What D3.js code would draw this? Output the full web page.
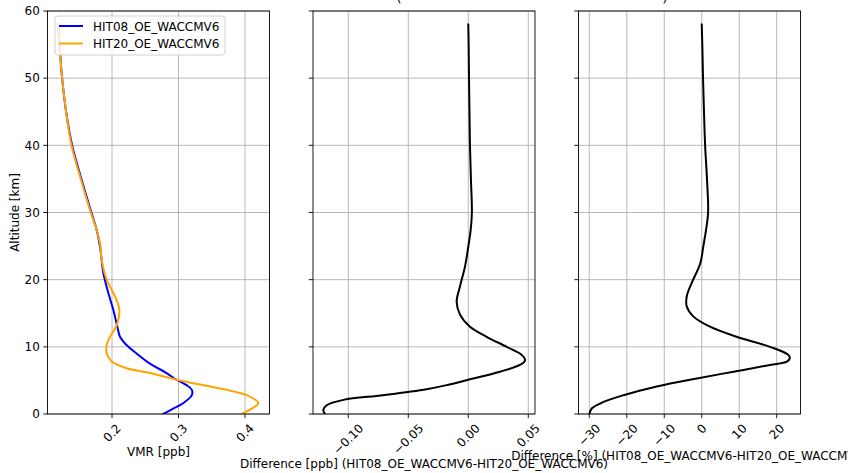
<!DOCTYPE html>
<html><head><meta charset="utf-8">
<script src="https://cdn.jsdelivr.net/npm/d3@7"></script>
<style>html,body{margin:0;padding:0;background:#fff;overflow:hidden}text{font-family:"DejaVu Sans",sans-serif}</style>
</head><body>
<svg id="chart" width="848" height="473"></svg>
<script>
// ---- data ----
const seriesNames = ["HIT08_OE_WACCMV6", "HIT20_OE_WACCMV6"];
const altHit08 = [0, 0.8, 1.6, 2.8, 3.6, 4.3, 5.1, 6.1, 7.5, 9.0, 10.5, 11.5, 13, 15.5, 18, 21, 24.9, 27.4, 30, 35, 40, 45, 50, 55, 58];
const vmrHit08 = [0.277, 0.292, 0.307, 0.320, 0.320, 0.312, 0.297, 0.282, 0.257, 0.237, 0.2195, 0.212, 0.208, 0.202, 0.1945, 0.187, 0.182, 0.177, 0.169, 0.154, 0.140, 0.131, 0.125, 0.121, 0.119];
const altHit20 = [0, 0.8, 1.6, 2.8, 3.6, 4.2, 5.1, 6.1, 6.8, 7.8, 9.0, 10.3, 11.5, 13.2, 15.5, 17.5, 20, 22.9, 25.4, 27.4, 30, 35, 40, 45, 50, 55, 58];
const vmrHit20 = [0.395, 0.41, 0.420, 0.4025, 0.372, 0.342, 0.297, 0.257, 0.222, 0.1995, 0.192, 0.192, 0.197, 0.207, 0.211, 0.2045, 0.192, 0.1845, 0.182, 0.177, 0.168, 0.153, 0.139, 0.131, 0.125, 0.121, 0.119];
const altDiff = [0, 0.6, 1.3, 2.1, 2.8, 3.7, 4.3, 5.1, 6.3, 7.3, 8.0, 8.8, 10.0, 11.5, 13.0, 14.8, 16.7, 19.0, 21.9, 24.9, 27.4, 30, 35, 40, 45, 50, 55, 58];
const diffPpb = [-0.1194, -0.1208, -0.118, -0.104, -0.071, -0.0347, -0.018, 0.0, 0.0264, 0.043, 0.0473, 0.0445, 0.032, 0.0153, 0.0014, -0.0069, -0.0097, -0.0069, -0.0028, 0.0, 0.002, 0.003, 0.0022, 0.0014, 0.001, 0.0006, 0.0003, 0.0];
const altPct = [0, 0.85, 1.8, 2.8, 4.1, 5.3, 6.3, 7.3, 7.8, 8.3, 8.8, 10.0, 11.5, 13, 14.5, 16.0, 17.5, 19.5, 22.4, 24.9, 27.4, 30, 35, 40, 45, 50, 55, 58];
const diffPct = [-30.0, -29.3, -26.2, -20.9, -12.0, -1.3, 8.5, 18.2, 22.7, 23.5, 23.1, 18.2, 9.3, 2.2, -2.2, -4.0, -4.0, -2.7, -0.4, 0.4, 1.15, 1.7, 1.4, 0.9, 0.6, 0.35, 0.15, 0.0];
const yTicks = [0, 10, 20, 30, 40, 50, 60];
const xTicks1 = [0.2, 0.3, 0.4];
const xTicks2 = [-0.10, -0.05, 0.00, 0.05];
const xTicks3 = [-30, -20, -10, 0, 10, 20];
const xLabels = ["VMR [ppb]", "Difference [ppb] (HIT08_OE_WACCMV6-HIT20_OE_WACCMV6)", "Difference [%] (HIT08_OE_WACCMV6-HIT20_OE_WACCMV6)"];
const yLabel = "Altitude [km]";

// ---- layout ----
const svg = d3.select("#chart");
const plotTop = 11, plotBottom = 414, fs = 12;
const y = d3.scaleLinear().domain([0, 60]).range([plotBottom, plotTop]);
const panels = [
  {x0: 47.5, x1: 269.5, domain: [0.103, 0.4368], ticks: xTicks1, fmt: d3.format(".1f"), showY: true,
   series: [{alt: altHit08, v: vmrHit08, color: "#0000ff"}, {alt: altHit20, v: vmrHit20, color: "#ffa500"}]},
  {x0: 313, x1: 535, domain: [-0.1294, 0.0556], ticks: xTicks2, fmt: d3.format(".2f"), showY: false,
   series: [{alt: altDiff, v: diffPpb, color: "#000000"}]},
  {x0: 578.5, x1: 800.5, domain: [-32.88, 26.35], ticks: xTicks3, fmt: d3.format("d"), showY: false,
   series: [{alt: altPct, v: diffPct, color: "#000000"}]}
];

panels.forEach((p, i) => {
  const x = d3.scaleLinear().domain(p.domain).range([p.x0, p.x1]);
  const g = svg.append("g");
  // grid
  g.selectAll(".gx").data(p.ticks).join("line")
    .attr("x1", d => x(d)).attr("x2", d => x(d)).attr("y1", plotTop).attr("y2", plotBottom)
    .attr("stroke", "#b0b0b0").attr("stroke-width", 0.9);
  g.selectAll(".gy").data(yTicks).join("line")
    .attr("x1", p.x0).attr("x2", p.x1).attr("y1", d => y(d)).attr("y2", d => y(d))
    .attr("stroke", "#b0b0b0").attr("stroke-width", 0.9);
  // lines
  const clipId = "clip" + i;
  svg.append("clipPath").attr("id", clipId).append("rect")
    .attr("x", p.x0).attr("y", plotTop).attr("width", p.x1 - p.x0).attr("height", plotBottom - plotTop);
  p.series.forEach(s => {
    const pts = s.alt.map((a, k) => [s.v[k], a]);
    const line = d3.line().x(d => x(d[0])).y(d => y(d[1])).curve(d3.curveCatmullRom.alpha(0.5));
    g.append("path").attr("d", line(pts)).attr("fill", "none").attr("stroke", s.color)
      .attr("stroke-width", 2).attr("stroke-linejoin", "round").attr("stroke-linecap", "square")
      .attr("clip-path", `url(#${clipId})`);
  });
  // spines
  g.append("rect").attr("x", p.x0).attr("y", plotTop).attr("width", p.x1 - p.x0).attr("height", plotBottom - plotTop)
    .attr("fill", "none").attr("stroke", "#000").attr("stroke-width", 0.9);
  // x ticks
  const tl = 4.2;
  g.selectAll(".xt").data(p.ticks).join("line")
    .attr("x1", d => x(d)).attr("x2", d => x(d)).attr("y1", plotBottom).attr("y2", plotBottom + tl)
    .attr("stroke", "#000").attr("stroke-width", 0.9);
  let maxBottom = 0;
  p.ticks.forEach(t => {
    const txt = g.append("text").text(p.fmt(t)).attr("font-size", fs).attr("fill", "#000")
      .attr("text-anchor", "middle").attr("dy", "0.35em");
    const w = txt.node().getComputedTextLength();
    const h = (w + fs * 0.95) * Math.SQRT1_2;
    const cy = plotBottom + tl + 4 + h / 2;
    txt.attr("transform", `translate(${x(t)},${cy}) rotate(-45)`);
    maxBottom = Math.max(maxBottom, cy + h / 2);
  });
  // y ticks
  g.selectAll(".yt").data(yTicks).join("line")
    .attr("x1", p.x0 - tl).attr("x2", p.x0).attr("y1", d => y(d)).attr("y2", d => y(d))
    .attr("stroke", "#000").attr("stroke-width", 0.9);
  if (p.showY) {
    g.selectAll(".yl").data(yTicks).join("text")
      .attr("x", p.x0 - tl - 3.5).attr("y", d => y(d)).attr("dy", "0.35em")
      .attr("text-anchor", "end").attr("font-size", fs).text(d => d);
    g.append("text").attr("transform", `translate(19,${(plotTop + plotBottom) / 2}) rotate(-90)`)
      .attr("text-anchor", "middle").attr("font-size", fs).text(yLabel);
  }
  // x label
  g.append("text").attr("x", (p.x0 + p.x1) / 2).attr("y", maxBottom + 12)
    .attr("text-anchor", "middle").attr("font-size", fs).text(xLabels[i]);
});

// title remnants (cut off at top)
svg.append("text").attr("x", 399).attr("y", 2).attr("text-anchor", "middle").attr("font-size", 14).text("(");
svg.append("text").attr("x", 665).attr("y", 2).attr("text-anchor", "middle").attr("font-size", 14).text(")");

// legend
const lg = svg.append("g");
lg.append("rect").attr("x", 55).attr("y", 16).attr("width", 170).attr("height", 39).attr("rx", 3)
  .attr("fill", "#fff").attr("fill-opacity", 0.8).attr("stroke", "#cccccc").attr("stroke-width", 0.9);
const legColors = ["#0000ff", "#ffa500"];
seriesNames.forEach((n, i) => {
  const ly = 26 + i * 17.5;
  lg.append("line").attr("x1", 59).attr("x2", 83).attr("y1", ly).attr("y2", ly)
    .attr("stroke", legColors[i]).attr("stroke-width", 2);
  lg.append("text").attr("x", 93).attr("y", ly).attr("dy", "0.38em").attr("font-size", fs).text(n);
});
</script>
</body></html>
